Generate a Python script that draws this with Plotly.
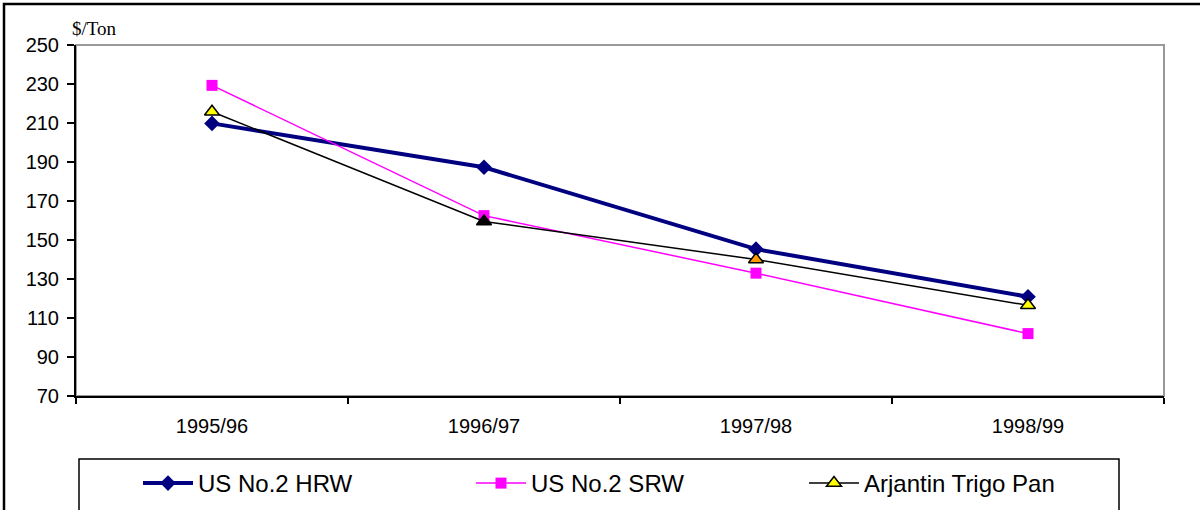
import plotly.graph_objects as go

seasons = ["1995/96", "1996/97", "1997/98", "1998/99"]
hrw = [209.8, 187.3, 145.3, 120.9]
srw = [229.3, 162.5, 133.0, 102.0]
arj = [215.8, 159.5, 140.0, 116.5]
arj_marker_colors = ["#FFFF00", "#000000", "#FF9900", "#FFFF00"]

L, R, T, B = 76, 36, 45, 114
W, H = 1200, 510
pw, ph = W - L - R, H - T - B


def px(x):
    return (x - L) / pw


def py(y):
    return (H - B - y) / ph


fig = go.Figure()
fig.add_trace(go.Scatter(
    x=seasons, y=hrw, name="US No.2 HRW", mode="lines+markers",
    line=dict(color="#000080", width=4),
    marker=dict(symbol="diamond", size=12, color="#000080"),
))
fig.add_trace(go.Scatter(
    x=seasons, y=srw, name="US No.2 SRW", mode="lines+markers",
    line=dict(color="#FF00FF", width=1.5),
    marker=dict(symbol="square", size=11, color="#FF00FF"),
))
fig.add_trace(go.Scatter(
    x=seasons, y=arj, name="Arjantin Trigo Pan", mode="lines+markers",
    line=dict(color="#000000", width=1.5),
    marker=dict(symbol="triangle-up", size=13, color=arj_marker_colors,
                line=dict(color="#000000", width=1.5)),
))

fig.update_layout(
    width=W, height=H,
    margin=dict(l=L, r=R, t=T, b=B, pad=0, autoexpand=False),
    paper_bgcolor="white", plot_bgcolor="white",
    font=dict(family="Liberation Sans, Arial, sans-serif", color="black"),
    showlegend=True,
    legend=dict(
        orientation="h", x=px(138), y=py(461), xanchor="left", yanchor="top",
        borderwidth=0, bgcolor="rgba(0,0,0,0)",
        font=dict(size=24), entrywidth=268, entrywidthmode="pixels",
        itemwidth=50, tracegroupgap=0,
    ),
    xaxis=dict(
        type="category", range=[-0.5, 3.5], tickson="boundaries",
        ticks="outside", ticklen=6, tickwidth=1.5, tickcolor="black",
        showline=True, linecolor="black", linewidth=2, showgrid=False,
        zeroline=False, tickfont=dict(size=20), ticklabelstandoff=11,
        automargin=False,
    ),
    yaxis=dict(
        range=[70, 250], tick0=70, dtick=20, ticks="outside", ticklen=7,
        tickwidth=1.5, tickcolor="black", showline=True, linecolor="black",
        linewidth=2, showgrid=False, zeroline=False,
        tickfont=dict(size=20), ticklabelstandoff=4, automargin=False,
    ),
    shapes=[
        dict(type="rect", xref="paper", yref="paper", x0=0, x1=1, y0=0, y1=1,
             line=dict(color="#999999", width=2), layer="below"),
        dict(type="rect", xref="paper", yref="paper", x0=px(79), x1=px(1119),
             y0=py(520), y1=py(459), line=dict(color="black", width=1.5),
             layer="below"),
        dict(type="rect", xref="paper", yref="paper", x0=px(4), x1=px(1203),
             y0=py(513), y1=py(4), line=dict(color="black", width=2.5)),
    ],
    annotations=[
        dict(text="$/Ton", xref="paper", yref="paper", x=px(70), y=py(16),
             xanchor="left", yanchor="top", showarrow=False,
             font=dict(family="Liberation Serif, Times New Roman, serif", size=19)),
    ],
)

fig.write_html("out.html", config={"displayModeBar": False},
               post_script="document.body.style.margin='0';")
